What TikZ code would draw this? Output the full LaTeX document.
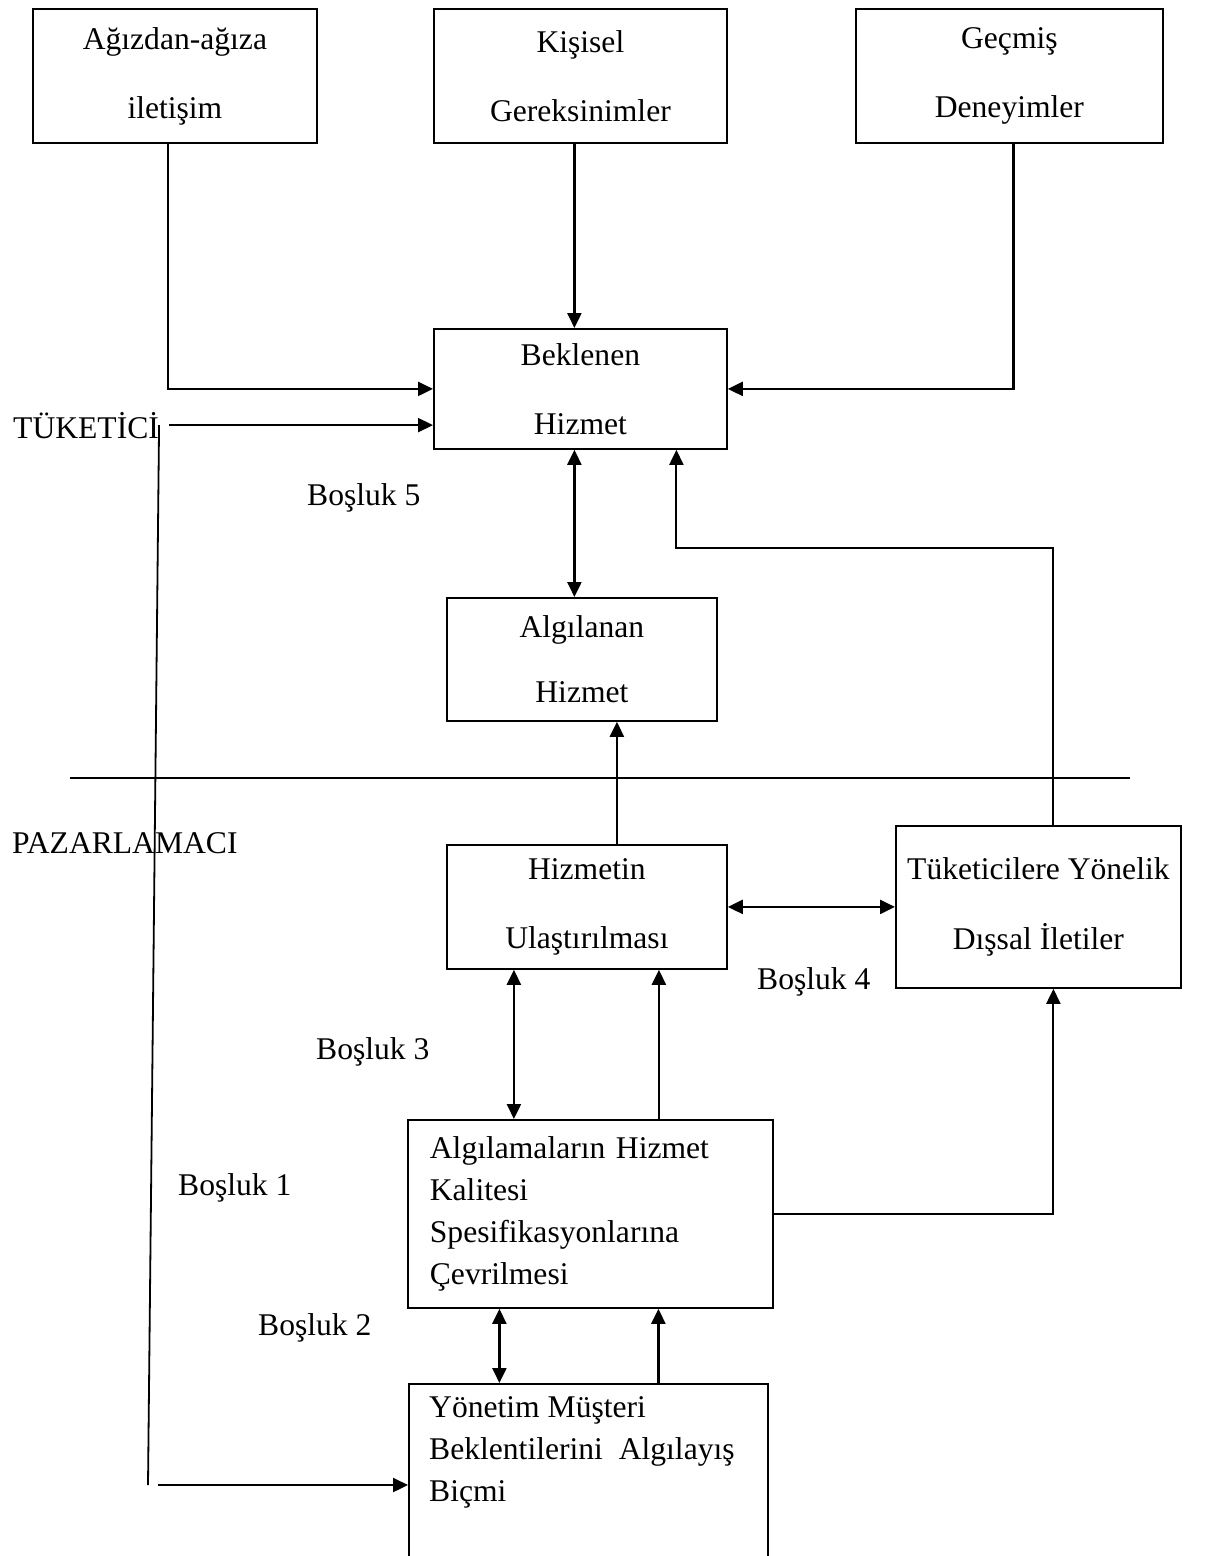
\documentclass[tikz,border=0pt]{standalone}
\usepackage{fontspec}
\setmainfont{Liberation Serif}
\usetikzlibrary{arrows.meta}
\usetikzlibrary{positioning}
\tikzset{
  kutu/.style={draw, line width=1.8pt, anchor=north west, align=center, inner sep=0pt,
    font=\fontsize{31.6}{69}\selectfont},
  yazi/.style={inner sep=0pt, font=\fontsize{31.6}{38}\selectfont},
  ok/.style={line width=2.3pt, -{Triangle[length=15pt, width=14pt]}},
  cift/.style={line width=2.3pt, {Triangle[length=15pt, width=14pt]}-{Triangle[length=15pt, width=14pt]}}}

\begin{document}
\begin{tikzpicture}[x=1pt, y=-1pt]
      \useasboundingbox (0, 0) rectangle (1213, 1556);

      % tuketici tarafi
      \node [kutu, minimum width=284pt, minimum height=134pt] (agiz) at (32, 8) {Ağızdan-ağıza\\iletişim};
      \node [kutu, minimum width=293pt, minimum height=134pt] (kisisel) at (433, 8) {Kişisel\\Gereksinimler};
      \node [kutu, minimum width=307pt, minimum height=134pt] (gecmis) at (855, 8) {Geçmiş\\Deneyimler};
      \node [kutu, minimum width=293pt, minimum height=120pt] (beklenen) at (433, 328) {Beklenen\\Hizmet};
      \node [kutu, minimum width=270pt, minimum height=123pt, font=\fontsize{31.6}{65}\selectfont] (algilanan) at (446, 597) {Algılanan\\Hizmet};

      \node [yazi, anchor=base west] (tuketici) at (13, 438) {TÜKETİCİ};
      \node [yazi, anchor=base west] (pazarlamaci) at (12, 853) {PAZARLAMACI};

      \coordinate (ayirsol) at (70, 778);
      \coordinate (ayirsag) at (1130, 778);
      \draw [line width=1.8pt] (ayirsol) -- (ayirsag);

      % pazarlamaci tarafi
      \node [kutu, minimum width=280pt, minimum height=124pt] (ulastirma) at (446, 844) {Hizmetin\\Ulaştırılması};
      \node [kutu, minimum width=285pt, minimum height=162pt, font=\fontsize{31.6}{70}\selectfont] (dissal) at (895, 825) {Tüketicilere Yönelik\\Dışsal İletiler};
      \node [kutu, align=left, text width=321pt, minimum width=365pt, minimum height=188pt,
        font=\fontsize{31.6}{41.7}\selectfont] (cevirme) at (407, 1119)
        {Algılamaların Hizmet\\Kalitesi\\Spesifikasyonlarına\\Çevrilmesi};
      \node [kutu, minimum width=359pt, minimum height=200pt] (yonetim) at (408, 1383) {};
      \node [yazi, anchor=north west, align=left, font=\fontsize{31.6}{42}\selectfont,
        below right=13pt and 21pt of yonetim.north west] (yonetimyazi)
        {Yönetim Müşteri\\Beklentilerini~ Algılayış\\Biçmi};

      \node [yazi, anchor=west] (bosluk5) at (307, 498) {Boşluk 5};
      \node [yazi, anchor=west] (bosluk4) at (757, 982) {Boşluk 4};
      \node [yazi, anchor=west] (bosluk3) at (316, 1052) {Boşluk 3};
      \node [yazi, anchor=west] (bosluk1) at (178, 1188) {Boşluk 1};
      \node [yazi, anchor=west] (bosluk2) at (258, 1328) {Boşluk 2};

      % ust oklar
      \draw [ok] ([xshift=-7pt]agiz.south) |- (beklenen.west);
      \draw [ok] ([xshift=-6pt]kisisel.south) -- ([xshift=-6pt]beklenen.north);
      \draw [ok] ([xshift=4pt]gecmis.south) |- (beklenen.east);
      \draw [ok] ([xshift=10pt]tuketici.east) -- (beklenen.west |- tuketici.east);
      \draw [cift] ([xshift=-6pt]beklenen.south) coordinate (b1) -- (b1 |- algilanan.north);
      \draw [ok] ([xshift=30pt]ulastirma.north) coordinate (u1) -- (u1 |- algilanan.south);
      \draw [ok, line width=2pt] ([xshift=15pt]dissal.north) |- ([xshift=96pt, yshift=-98pt]beklenen.south)
        -- ([xshift=96pt]beklenen.south);

      % alt oklar
      \draw [cift] (ulastirma.east) -- (ulastirma.east -| dissal.west);
      \draw [cift] ([xshift=-73pt]ulastirma.south) coordinate (u2) -- (u2 |- cevirme.north);
      \coordinate (u3) at ([xshift=72pt]ulastirma.south);
      \draw [ok] (u3 |- cevirme.north) -- (u3);
      \draw [ok, line width=2pt] (cevirme.east) -| ([xshift=15pt]dissal.south);
      \draw [cift] ([xshift=-91pt]cevirme.south) coordinate (c1) -- (c1 |- yonetim.north);
      \coordinate (c2) at ([xshift=68pt]cevirme.south);
      \draw [ok] (c2 |- yonetim.north) -- (c2);

      % sol uzun cizgi
      \coordinate (solalt) at (148, 1485);
      \draw [line width=1.8pt] (tuketici.east) -- (solalt);
      \draw [ok] ([xshift=10pt]solalt) -- (solalt -| yonetim.west);
\end{tikzpicture}
\end{document}
